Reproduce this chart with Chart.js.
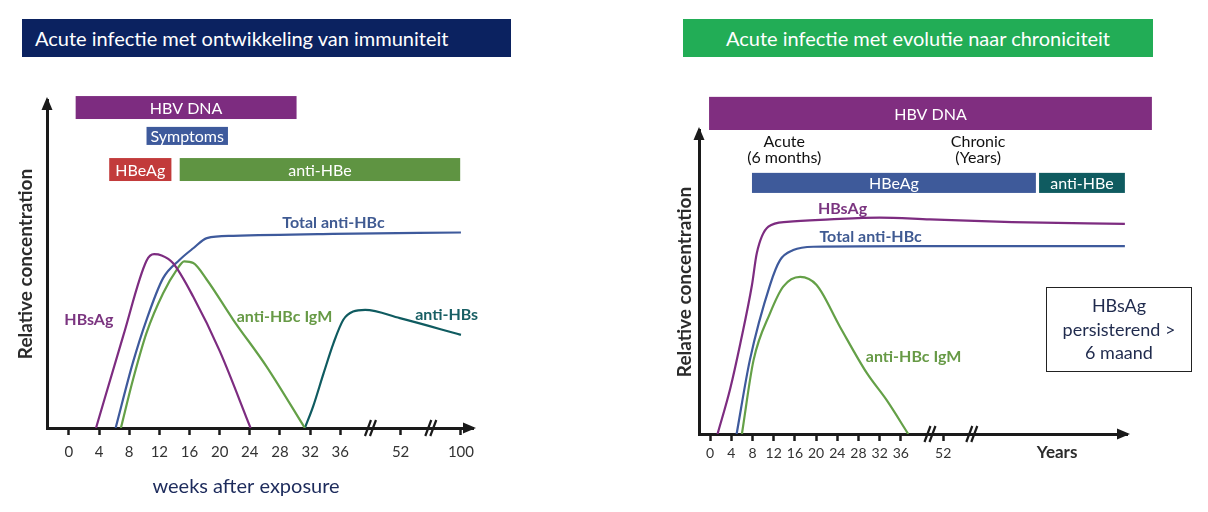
<!DOCTYPE html>
<html>
<head>
<meta charset="utf-8">
<script src="https://cdn.jsdelivr.net/npm/chart.js@4.4.1/dist/chart.umd.min.js"></script>
<style>
body{margin:0;width:1208px;height:512px;background:#fff;position:relative;overflow:hidden;font-family:Lato,sans-serif}
.banner{position:absolute;top:19px;height:38px;color:#fff;font-size:20px;line-height:38px;white-space:nowrap}
#bannerLeft{left:22px;width:489px;background:#0b2260;padding-left:13px;box-sizing:border-box}
#bannerRight{left:683px;width:470px;background:#22ad56;text-align:center}
canvas{position:absolute;top:60px}
#left{left:0}
#right{left:600px}
#note{position:absolute;left:1046px;top:287px;width:146px;height:85px;border:1.5px solid #222;box-sizing:border-box;text-align:center;color:#1f2a4d;font-size:18px;line-height:23.7px;padding-top:6px}
</style>
</head>
<body>
<div class="banner" id="bannerLeft">Acute infectie met ontwikkeling van immuniteit</div>
<div class="banner" id="bannerRight">Acute infectie met evolutie naar chroniciteit</div>
<canvas id="left" width="520" height="452"></canvas>
<canvas id="right" width="608" height="452"></canvas>
<div id="note">HBsAg<br>persisterend &gt;<br>6 maand</div>
<script>
// left panel, x = weeks after exposure (after 36 the axis is compressed: 52 sits at 44, 100 at 52)
const leftTickPos = [0, 4, 8, 12, 16, 20, 24, 28, 32, 36, 44, 52];
const leftTickLabels = ['0', '4', '8', '12', '16', '20', '24', '28', '32', '36', '52', '100'];
const leftBreaks = [40, 48];

const leftHbsagWeeks = [3.6, 7.2, 10.3, 11.3, 12.3, 13.8, 16.5, 20, 24.1];
const leftHbsagValues = [0, 28, 51, 53, 52.6, 50.3, 40, 23.5, 0];
const leftAntiHbcWeeks = [6.2, 8.5, 10.3, 12.5, 14.7, 16.5, 18.3, 21.8, 35, 52];
const leftAntiHbcValues = [0, 20, 33, 45.7, 51.3, 54.8, 57.9, 58.6, 59.2, 59.6];
const leftIgmWeeks = [6.9, 8.5, 10.3, 12.5, 14.3, 15.3, 16.5, 18.3, 21.8, 26.2, 31.3];
const leftIgmValues = [0, 14.7, 29, 41.1, 48.2, 50.8, 50.3, 45.2, 33, 18.8, 0];
const leftAntiHbsWeeks = [31.3, 32.4, 33.8, 35.1, 36.4, 37.7, 39.3, 43.9, 52];
const leftAntiHbsValues = [0, 6.6, 16.8, 25.9, 33, 35.5, 36, 33.5, 28.4];

const leftBandNames = ['HBV DNA', 'Symptoms', 'HBeAg', 'anti-HBe'];
const leftBandStart = [0.9, 10.3, 5.35, 14.7];
const leftBandEnd = [30.2, 21.1, 13.6, 51.9];

// right panel
const rightTickPos = [0, 4, 8, 12, 16, 20, 24, 28, 32, 36, 44];
const rightTickLabels = ['0', '4', '8', '12', '16', '20', '24', '28', '32', '36', '52'];
const rightBreaks = [41.5, 49.4];

const rightHbsagWeeks = [1.4, 3.8, 5.7, 7.9, 8.8, 11, 14.5, 22.6, 32, 41.5, 57, 78.3];
const rightHbsagValues = [0, 15, 29.8, 49, 59.4, 68.2, 69.8, 70.6, 71.2, 70.6, 69.7, 69.1];
const rightAntiHbcWeeks = [5, 7.5, 11.3, 13.2, 15.7, 19.5, 40, 78.3];
const rightAntiHbcValues = [0, 24.3, 49, 57.2, 60.5, 61.6, 61.8, 61.8];
const rightIgmWeeks = [6, 8.2, 11.3, 13.8, 17, 20.1, 24.5, 29.6, 33.3, 37.4];
const rightIgmValues = [0, 24.3, 39.7, 48.5, 51.7, 49, 35.3, 20, 11.2, 0];

const rightBandNames = ['HBV DNA', 'HBeAg', 'anti-HBe'];
const rightBandStart = [-0.2, 7.9, 62.1];
const rightBandEnd = [83.4, 61.5, 78.3];

const purple = '#7d2c80';
const blue = '#3e5a9c';
const green = '#64a047';
const teal = '#0f5b60';
const axisColor = '#1a1a1a';

Chart.defaults.font.family = 'Lato';

function series(weeks, values) {
	return weeks.map((w, i) => ({x: w, y: values[i]}));
}

function line(label, weeks, values, color) {
	return {
		label: label,
		data: series(weeks, values),
		borderColor: color,
		borderWidth: 2.2,
		pointRadius: 0,
		showLine: true,
		cubicInterpolationMode: 'monotone'
	};
}

const diagramPlugin = {
	id: 'diagram',
	afterDraw(chart, args, opts) {
		const {ctx, chartArea} = chart;
		const xs = chart.scales.x;
		const ys = chart.scales.y;
		ctx.save();

		// coloured bands above the curves
		opts.bands.forEach(b => {
			const x0 = xs.getPixelForValue(b.from);
			const x1 = xs.getPixelForValue(b.to);
			const y0 = ys.getPixelForValue(b.top);
			const y1 = ys.getPixelForValue(b.bottom);
			ctx.fillStyle = b.color;
			ctx.fillRect(x0, y0, x1 - x0, y1 - y0);
			ctx.fillStyle = '#fff';
			ctx.font = '16px Lato';
			ctx.textAlign = 'center';
			ctx.textBaseline = 'middle';
			ctx.fillText(b.text, (x0 + x1) / 2, (y0 + y1) / 2 + 1);
		});

		// curve names and other texts
		opts.texts.forEach(t => {
			ctx.fillStyle = t.color;
			ctx.font = t.font;
			ctx.textAlign = 'center';
			ctx.textBaseline = 'middle';
			ctx.fillText(t.text, xs.getPixelForValue(t.x), ys.getPixelForValue(t.y));
		});

		// arrow heads
		ctx.fillStyle = axisColor;
		const left = chartArea.left, bottom = chartArea.bottom;
		ctx.beginPath();
		ctx.moveTo(left, chartArea.top - 3);
		ctx.lineTo(left - 5.5, chartArea.top + 10);
		ctx.lineTo(left + 5.5, chartArea.top + 10);
		ctx.fill();
		ctx.beginPath();
		ctx.moveTo(chartArea.right + 3, bottom);
		ctx.lineTo(chartArea.right - 10, bottom - 5.5);
		ctx.lineTo(chartArea.right - 10, bottom + 5.5);
		ctx.fill();

		// axis breaks
		ctx.strokeStyle = axisColor;
		ctx.lineWidth = 2.2;
		opts.breaks.forEach(v => {
			const px = xs.getPixelForValue(v);
			[-2.5, 2.5].forEach(d => {
				ctx.beginPath();
				ctx.moveTo(px + d - 3, bottom + 8);
				ctx.lineTo(px + d + 3, bottom - 8);
				ctx.stroke();
			});
		});
		ctx.restore();
	}
};

function xAxis(min, max, tickPos, tickLabels, fontSize, padding, height) {
	return {
		type: 'linear',
		min: min,
		max: max,
		afterBuildTicks: scale => { scale.ticks = tickPos.map(v => ({value: v})); },
		afterFit: scale => { scale.height = height; },
		ticks: {
			callback: (value, index) => tickLabels[index],
			font: {size: fontSize},
			color: '#333',
			padding: padding,
			maxRotation: 0,
			autoSkip: false
		},
		grid: {drawOnChartArea: false, tickLength: 7, tickWidth: 2.5, tickColor: axisColor},
		border: {display: true, width: 3, color: axisColor}
	};
}

function yAxis(width, titlePad) {
	return {
		type: 'linear',
		min: 0,
		max: 100,
		afterFit: scale => { scale.width = width; },
		ticks: {display: false},
		grid: {display: false},
		border: {display: true, width: 3, color: axisColor},
		title: {
			display: true,
			text: 'Relative concentration',
			color: '#2b2b2b',
			font: {size: 19, weight: 'bold'},
			padding: {top: titlePad, bottom: 0}
		}
	};
}

const labelFont = 'bold 16px Lato';

const leftChart = new Chart(document.getElementById('left'), {
	type: 'scatter',
	data: {
		datasets: [
			line('HBsAg', leftHbsagWeeks, leftHbsagValues, purple),
			line('Total anti-HBc', leftAntiHbcWeeks, leftAntiHbcValues, blue),
			line('anti-HBc IgM', leftIgmWeeks, leftIgmValues, green),
			line('anti-HBs', leftAntiHbsWeeks, leftAntiHbsValues, teal)
		]
	},
	options: {
		responsive: false,
		animation: false,
		layout: {padding: {left: 0, right: 47, top: 40, bottom: 0}},
		scales: {
			x: xAxis(-2.9, 53.6, leftTickPos, leftTickLabels, 15, 8, 84),
			y: yAxis(47, 14.6)
		},
		plugins: {
			legend: {display: false},
			tooltip: {enabled: false},
			diagram: {
				bands: [
					{text: leftBandNames[0], from: leftBandStart[0], to: leftBandEnd[0], top: 101.2, bottom: 94.2, color: purple},
					{text: leftBandNames[1], from: leftBandStart[1], to: leftBandEnd[1], top: 91.8, bottom: 86.3, color: blue},
					{text: leftBandNames[2], from: leftBandStart[2], to: leftBandEnd[2], top: 82.3, bottom: 75.3, color: '#c23b3b'},
					{text: leftBandNames[3], from: leftBandStart[3], to: leftBandEnd[3], top: 82.3, bottom: 75.3, color: '#5f9442'}
				],
				texts: [
					{text: 'HBsAg', x: 2.65, y: 33, color: '#7b3580', font: labelFont},
					{text: 'anti-HBc IgM', x: 28.6, y: 33.9, color: '#679a46', font: labelFont},
					{text: 'anti-HBs', x: 50.1, y: 34.5, color: '#185f64', font: labelFont},
					{text: 'Total anti-HBc', x: 35.1, y: 62.5, color: '#3f5a92', font: labelFont},
					{text: 'weeks after exposure', x: 23.5, y: -17.9, color: '#1d2b5c', font: '20px Lato'}
				],
				breaks: leftBreaks
			}
		}
	},
	plugins: [diagramPlugin]
});

const rightChart = new Chart(document.getElementById('right'), {
	type: 'scatter',
	data: {
		datasets: [
			line('HBsAg', rightHbsagWeeks, rightHbsagValues, purple),
			line('Total anti-HBc', rightAntiHbcWeeks, rightAntiHbcValues, blue),
			line('anti-HBc IgM', rightIgmWeeks, rightIgmValues, green)
		]
	},
	options: {
		responsive: false,
		animation: false,
		layout: {padding: {left: 60, right: 81, top: 70, bottom: 0}},
		scales: {
			x: xAxis(-2.1, 78.7, rightTickPos, rightTickLabels, 14, 3.6, 78),
			y: yAxis(39, 13.6)
		},
		plugins: {
			legend: {display: false},
			tooltip: {enabled: false},
			diagram: {
				bands: [
					{text: rightBandNames[0], from: rightBandStart[0], to: rightBandEnd[0], top: 110.9, bottom: 100, color: '#802e80'},
					{text: rightBandNames[1], from: rightBandStart[1], to: rightBandEnd[1], top: 85.9, bottom: 79.3, color: '#3e5a9a'},
					{text: rightBandNames[2], from: rightBandStart[2], to: rightBandEnd[2], top: 85.9, bottom: 79.3, color: teal}
				],
				texts: [
					{text: 'Acute', x: 14, y: 96, color: '#111', font: '16px Lato'},
					{text: '(6 months)', x: 14, y: 90.8, color: '#111', font: '16px Lato'},
					{text: 'Chronic', x: 50.6, y: 96, color: '#111', font: '16px Lato'},
					{text: '(Years)', x: 50.6, y: 90.8, color: '#111', font: '16px Lato'},
					{text: 'HBsAg', x: 25, y: 74, color: '#7b3580', font: labelFont},
					{text: 'Total anti-HBc', x: 30.3, y: 64.8, color: '#3f5a92', font: labelFont},
					{text: 'anti-HBc IgM', x: 38.4, y: 25.3, color: '#679a46', font: labelFont},
					{text: 'Years', x: 65.5, y: -6.25, color: '#2b2b2b', font: 'bold 17px Lato'}
				],
				breaks: rightBreaks
			}
		}
	},
	plugins: [diagramPlugin]
});
</script>
</body>
</html>
